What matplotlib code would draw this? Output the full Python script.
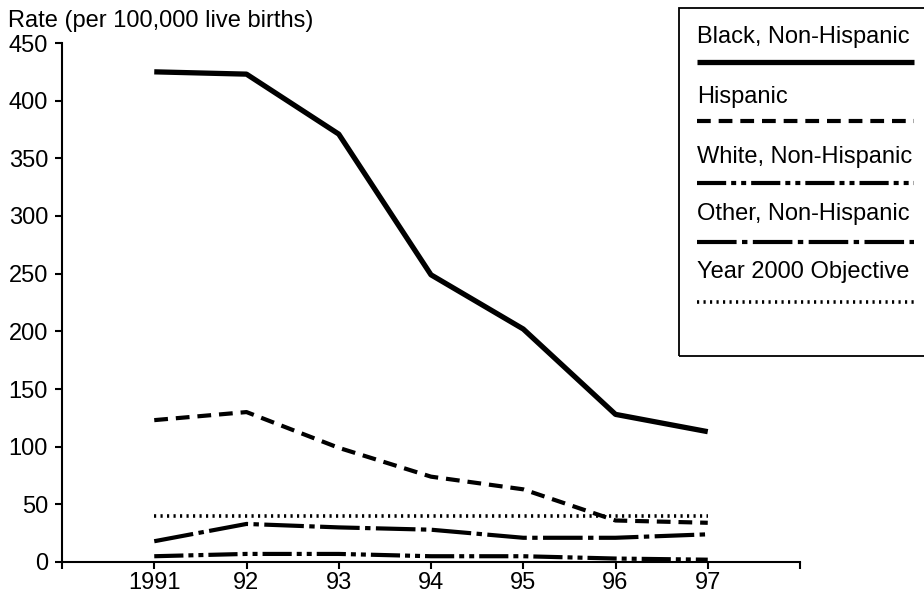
import matplotlib.pyplot as plt
from matplotlib.lines import Line2D
from matplotlib.patches import Rectangle

plt.rcParams['font.family'] = ['Liberation Sans', 'DejaVu Sans']

years = ['1991', '92', '93', '94', '95', '96', '97']
black = [425, 423, 371, 249, 202, 128, 113]
hispanic = [123, 130, 99, 74, 63, 36, 34]
white = [5, 7, 7, 5, 5, 3, 2]
other = [18, 33, 30, 28, 21, 21, 24]
objective = [40, 40, 40, 40, 40, 40, 40]

labels = ['Black, Non-Hispanic', 'Hispanic', 'White, Non-Hispanic',
          'Other, Non-Hispanic', 'Year 2000 Objective']

styles = [
    dict(lw=3.8, ls='-'),
    dict(lw=3.0, ls=(0, (3.3, 1.9))),
    dict(lw=3.0, ls=(0, (7, 1.2, 1.2, 1.2, 1.2, 1.2))),
    dict(lw=3.0, ls=(0, (9.5, 1.3, 1.3, 1.3))),
    dict(lw=2.6, ls=(0, (0.6, 1.2))),
]

FS = 17
W, H = 924, 594
fig = plt.figure(figsize=(9.24, 5.94), dpi=100)
ax = fig.add_axes([62 / W, (H - 562) / H, 738 / W, 519 / H])

x = list(range(1, len(years) + 1))
series = [black, hispanic, white, other, objective]
for vals, st in zip(series, styles):
    ax.plot(x, vals, color='black', solid_capstyle='butt', dash_capstyle='butt', **st)

ax.set_xlim(0, 8)
ax.set_ylim(0, 450)
ax.set_xticks(list(range(0, 9)))
ax.set_xticklabels([''] + years + [''])
ax.set_yticks(range(0, 451, 50))
for s in ['top', 'right']:
    ax.spines[s].set_visible(False)
for s in ['left', 'bottom']:
    ax.spines[s].set_linewidth(1.5)
ax.tick_params(axis='both', direction='out', length=5, width=1.5, labelsize=FS, color='black')
ax.tick_params(axis='y', pad=5)
ax.tick_params(axis='x', pad=2)
fig.text(8 / W, 1 - 21 / H, 'Rate (per 100,000 live births)', fontsize=FS, va='center', ha='left')

# legend box drawn in figure coords
fig.patches.append(Rectangle((679 / W, 1 - 356 / H), 260 / W, 348 / H, transform=fig.transFigure,
                             fill=False, lw=1.3, ec='black'))
text_y = [37, 97, 157, 214, 272]
line_y = [62, 121, 183, 242, 302]
for lab, st, ty, ly in zip(labels, styles, text_y, line_y):
    fig.text(697 / W, 1 - ty / H, lab, fontsize=FS, va='center', ha='left')
    fig.lines.append(Line2D([697 / W, 914 / W], [1 - ly / H, 1 - ly / H], transform=fig.transFigure,
                            color='black', solid_capstyle='butt', dash_capstyle='butt', **st))

fig.savefig('out.png', dpi=100)
